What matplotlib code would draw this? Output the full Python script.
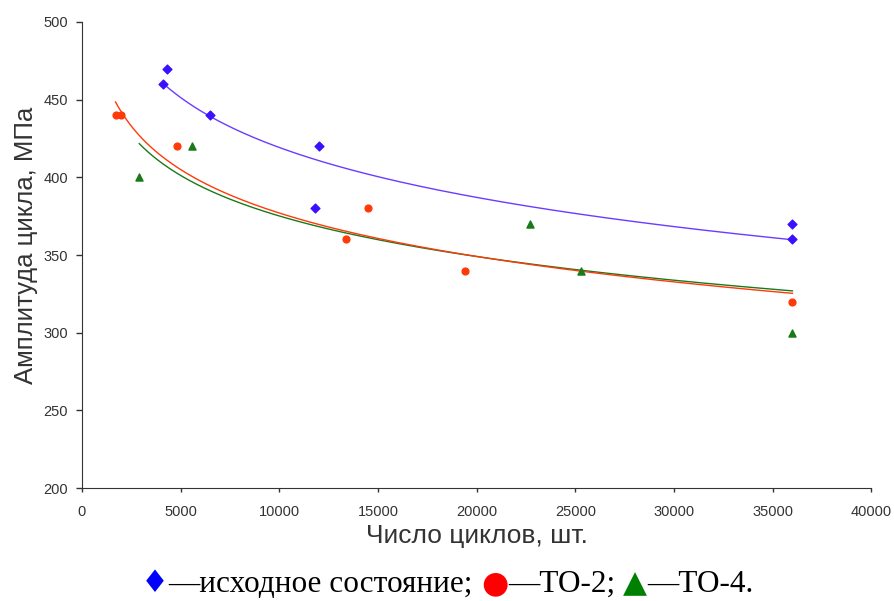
import matplotlib.pyplot as plt
import numpy as np
from matplotlib.offsetbox import AnchoredOffsetbox, HPacker, TextArea

# cycles to failure vs. stress amplitude for three material states
base_n = [4100, 4300, 6500, 12000, 11800, 36000, 36000]
base_s = [460, 470, 440, 420, 380, 370, 360]

to2_n = [1700, 2000, 4800, 13400, 14500, 19400, 36000]
to2_s = [440, 440, 420, 360, 380, 340, 320]

to4_n = [2900, 5600, 22700, 25300, 36000]
to4_s = [400, 420, 370, 340, 300]

x_ticks = list(range(0, 40001, 5000))
y_ticks = list(range(200, 501, 50))

BLUE = "#3a10ff"
BLUE_LINE = "#6a3cff"
RED = "#ff3a0a"
GREEN = "#1a7a1a"
INK = "#333333"


def log_trend(ax, n, s, color):
    # Excel-style logarithmic trend line over the range of the data
    k, b = np.polyfit(np.log(n), s, 1)
    xs = np.linspace(min(n), max(n), 300)
    ax.plot(xs, k * np.log(xs) + b, color=color, lw=1.0, zorder=2)


fig = plt.figure(figsize=(8.94, 6.01), dpi=100)
ax = fig.add_axes([0.0917, 0.188, 0.883, 0.7754])

ax.scatter(base_n, base_s, marker="D", s=20, color=BLUE, zorder=3)
ax.scatter(to2_n, to2_s, marker="o", s=24, color=RED, zorder=3)
ax.scatter(to4_n, to4_s, marker="^", s=26, color=GREEN, zorder=3)

log_trend(ax, base_n, base_s, BLUE_LINE)
log_trend(ax, to4_n, to4_s, GREEN)
log_trend(ax, to2_n, to2_s, RED)

ax.set_xlim(0, 40000)
ax.set_ylim(200, 500)
ax.set_xticks(x_ticks)
ax.set_yticks(y_ticks)
ax.tick_params(labelsize=10.5, colors=INK, width=1)
ax.tick_params(axis="x", length=3, pad=9)
ax.tick_params(axis="y", length=4, pad=6)
for lab in ax.get_xticklabels() + ax.get_yticklabels():
    lab.set_fontfamily("Liberation Sans")
for side in ("top", "right"):
    ax.spines[side].set_visible(False)
for side in ("left", "bottom"):
    ax.spines[side].set_color(INK)

ax.set_xlabel("Число циклов, шт.", fontsize=19, family="Liberation Sans", color=INK, labelpad=4)
ax.set_ylabel("Амплитуда цикла, МПа", fontsize=18.5, family="Liberation Sans", color=INK)
ax.yaxis.set_label_coords(-0.056, 0.52)

# caption with coloured series symbols
sym = dict(fontsize=22.5, fontfamily="DejaVu Sans")
txt = dict(fontsize=22.5, fontfamily="Liberation Serif", color="black")
parts = [
    TextArea("♦", textprops=dict(color="#0000ff", **sym)),
    TextArea("—исходное состояние; ", textprops=txt),
    TextArea("●", textprops=dict(color="#ff0000", **sym)),
    TextArea("—ТО-2; ", textprops=txt),
    TextArea("▲", textprops=dict(color="#008000", **sym)),
    TextArea("—ТО-4.", textprops=txt),
]
box = HPacker(children=parts, align="baseline", pad=0, sep=0)
anchored = AnchoredOffsetbox(loc="center", child=box, frameon=False, pad=0, borderpad=0,
                             bbox_to_anchor=(0.5, 0.028), bbox_transform=fig.transFigure)
fig.add_artist(anchored)

fig.savefig("out.png", dpi=100)
